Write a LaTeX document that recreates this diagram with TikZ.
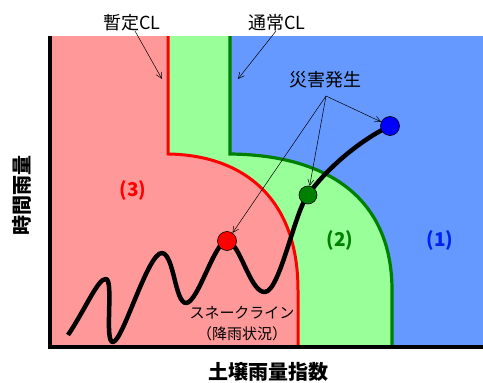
\documentclass[tikz,border=0pt]{standalone}
\usepackage{fontspec}
\newfontfamily\jp{Noto Sans CJK JP}
\usetikzlibrary{arrows.meta}
\definecolor{pinkfill}{RGB}{255,153,153}
\definecolor{greenfill}{RGB}{153,255,153}
\definecolor{bluefill}{RGB}{102,153,255}
\definecolor{darkgreen}{RGB}{0,128,0}
\definecolor{labblue}{RGB}{0,34,238}
\begin{document}
\begin{tikzpicture}[x=1pt,y=-1pt,
  lab/.style={font=\jp\fontsize{18}{20}\selectfont, inner sep=0pt},
  axlab/.style={font=\jp\bfseries\fontsize{20}{22}\selectfont, inner sep=0pt},
  reglab/.style={font=\jp\bfseries\fontsize{19}{22}\selectfont, inner sep=0pt},
  snk/.style={font=\jp\fontsize{15}{18}\selectfont, inner sep=0pt},
  dot/.style={circle, draw=black, line width=0.6pt, minimum size=19pt, inner sep=0pt},
  pointer/.style={draw=black, line width=0.5pt, -{Straight Barb[length=6pt,width=6pt]}}
]
\useasboundingbox (0,0) rectangle (483,383);
\fill[white] (0,0) rectangle (483,383);
% regions
\fill[bluefill] (50,36) rectangle (483,346);
\fill[greenfill] (50,36) -- (230,36) -- (230,154) .. controls (330,155) and (392,200) .. (392,290) -- (392,346) -- (50,346) -- cycle;
\fill[pinkfill] (50,36) -- (168,36) -- (168,154) .. controls (240,155) and (298,195) .. (298,290) -- (298,346) -- (50,346) -- cycle;
% boundaries
\draw[darkgreen, line width=3.2pt] (230,36) -- (230,154) .. controls (330,155) and (392,200) .. (392,290) -- (392,346);
\draw[red, line width=3pt] (168,36) -- (168,154) .. controls (240,155) and (298,195) .. (298,290) -- (298,346);
% axes
\draw[black, line width=4pt] (50,36) -- (50,347) -- (483,347);
% snake line
\draw[black, line width=4.5pt, line join=round]
  (68,335) .. controls (85,310) and (98,278) .. (106,279)
  .. controls (114,280) and (104,343) .. (113,342)
  .. controls (123,341) and (148,252) .. (162,253)
  .. controls (174,254) and (175,303) .. (186,303)
  .. controls (198,303) and (215,240) .. (227,241)
  .. controls (240,242) and (250,293) .. (265,292)
  .. controls (280,291) and (295,210) .. (308,195)
  .. controls (325,170) and (360,140) .. (390,126);
% dots
\node[dot, fill=blue] (bd) at (390,126) {};
\node[dot, fill=darkgreen, minimum size=18pt] (gd) at (308,195) {};
\node[dot, fill=red] (rd) at (227,241) {};
% labels
\node[lab] (zanL) at (132,23) {暫定CL};
\node[lab] (tsuL) at (277,23) {通常CL};
\node[lab] (sai) at (325,80) {災害発生};
\coordinate (zanS) at (135,31);
\coordinate (zanE) at (162,79);
\coordinate (tsuS) at (276,31);
\coordinate (tsuE) at (238,79);
\coordinate (saiS) at (326,96);
\draw[pointer] (zanS) -- (zanE);
\draw[pointer] (tsuS) -- (tsuE);
\draw[pointer] (saiS) -- (bd);
\draw[pointer] (saiS) -- (gd);
\draw[pointer] (saiS) -- (rd);
\node[reglab, text=red] (r3) at (133,190) {(3)};
\node[reglab, text=darkgreen] (r2) at (340,240) {(2)};
\node[reglab, text=labblue] (r1) at (440,240) {(1)};
\node[snk] (sn1) at (242,313) {スネークライン};
\node[snk] (sn2) at (242,334) {（降雨状況）};
\node[axlab, rotate=90] (ylab) at (22,195) {時間雨量};
\node[axlab] (xlab) at (268,372) {土壌雨量指数};
\end{tikzpicture}
\end{document}
